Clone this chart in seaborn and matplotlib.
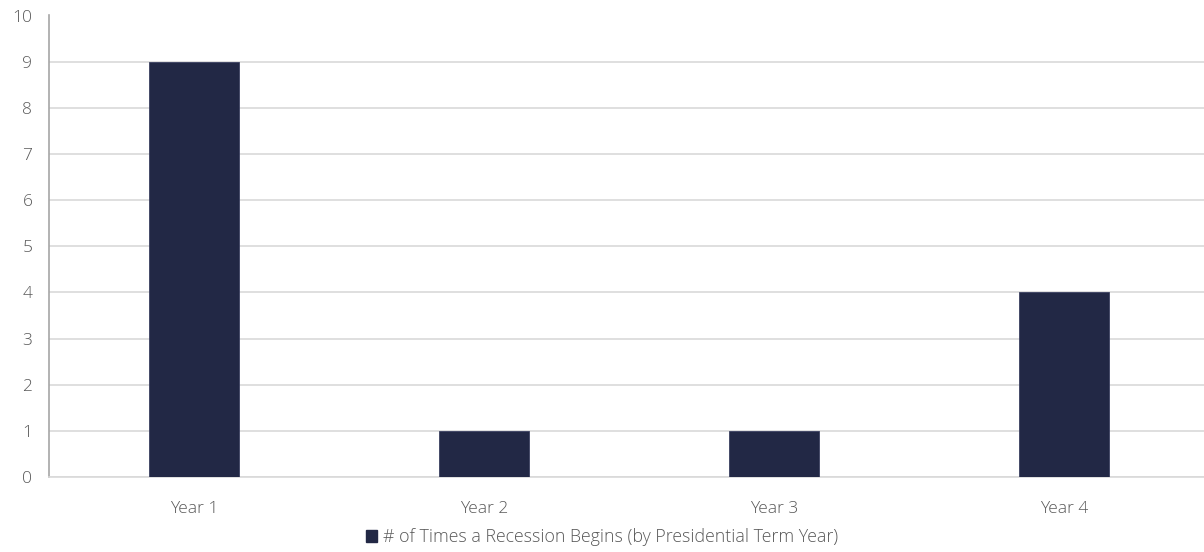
import matplotlib
matplotlib.use("Agg")
import matplotlib.pyplot as plt
import seaborn as sns
import pandas as pd
from matplotlib.patches import Patch

categories = ["Year 1", "Year 2", "Year 3", "Year 4"]
values = [9, 1, 1, 4]
series_name = "# of Times a Recession Begins (by Presidential Term Year)"

sns.set_theme(style="white")
plt.rcParams['font.family'] = ['Open Sans', 'DejaVu Sans']

df = pd.DataFrame({"Year": categories, "Count": values})

fig = plt.figure(figsize=(12.04, 5.52), dpi=100)
ax = fig.add_axes([49/1204, 75/552, 1155/1204, 461.5/552])

bar_color = "#222845"
sns.barplot(data=df, x="Year", y="Count", color=bar_color, width=0.31,
            saturation=1, ax=ax, zorder=3, edgecolor="#3a4060", linewidth=0.6)

ax.set_xlim(-0.5, -0.5 + 1155/290)
ax.set_ylim(0, 10)
ax.set_yticks(range(0, 11))
ax.yaxis.grid(True, color="#d9d9d9", linewidth=1.2, zorder=0)
ax.set_axisbelow(True)
ax.set_xlabel("")
ax.set_ylabel("")

for s in ["top", "right"]:
    ax.spines[s].set_visible(False)
ax.spines["left"].set_color("#a6a6a6")
ax.spines["left"].set_linewidth(1.2)
ax.spines["bottom"].set_color("#d9d9d9")
ax.spines["bottom"].set_linewidth(1.2)

ax.tick_params(axis="both", length=0, labelsize=12.5, labelcolor="#595959")
ax.tick_params(axis="y", pad=12)
ax.tick_params(axis="x", pad=17)
for lbl in ax.get_xticklabels() + ax.get_yticklabels():
    lbl.set_fontweight("light")

handle = Patch(facecolor=bar_color, edgecolor=bar_color)
leg = fig.legend([handle], [series_name], loc="center", bbox_to_anchor=(602/1204, 1 - 537/552),
                 frameon=False, fontsize=12.8, handlelength=0.65, handleheight=0.65,
                 handletextpad=0.35, labelcolor="#595959")
for t in leg.get_texts():
    t.set_fontweight("light")

fig.savefig("out.png", dpi=100)
